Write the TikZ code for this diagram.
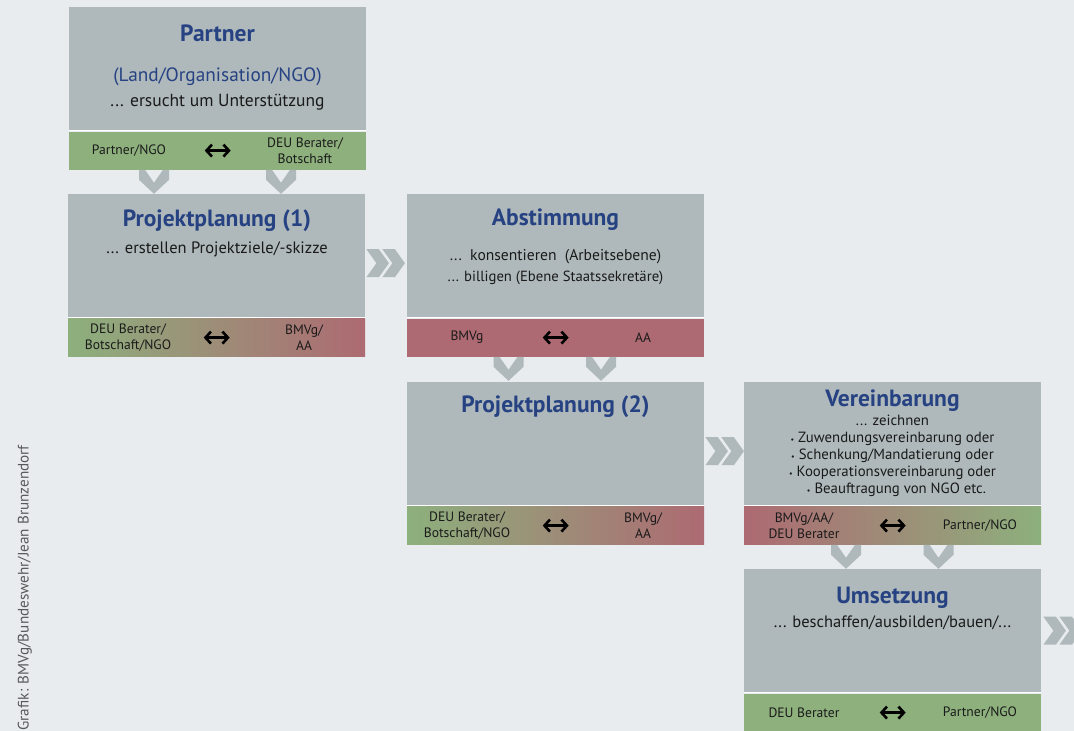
\documentclass[tikz,border=0pt]{standalone}
\usepackage{fontspec}
\setmainfont{PT Sans}
\usetikzlibrary{arrows.meta}
\definecolor{bgnd}{RGB}{232,236,239}
\definecolor{panelgray}{RGB}{175,185,187}
\definecolor{partnergreen}{RGB}{141,176,125}
\definecolor{ministryred}{RGB}{173,106,114}
\definecolor{titleblue}{RGB}{38,66,130}
\definecolor{textdark}{RGB}{26,26,26}
\tikzset{
  panel/.style={fill=panelgray, minimum width=297pt, minimum height=123pt, inner sep=0pt, anchor=north west},
  bar/.style={minimum width=297pt, minimum height=38pt, inner sep=0pt, anchor=north west},
  seam/.style={white, line width=1pt},
  headline/.style={font=\bfseries\fontsize{23.5}{26}\selectfont, text=titleblue, anchor=base},
  subhead/.style={font=\fontsize{19.3}{22}\selectfont, text=titleblue, anchor=base},
  body/.style={font=\fontsize{16.5}{20.7}\selectfont, text=textdark, anchor=base, align=center},
  bullets/.style={font=\fontsize{14.8}{16.8}\selectfont, text=textdark, anchor=base, align=center, inner sep=0pt},
  barlabel/.style={font=\fontsize{13.6}{16.3}\selectfont, text=textdark, align=center, inner sep=0pt},
  twoway/.style={{Straight Barb[length=5.5pt,width=12pt]}-{Straight Barb[length=5.5pt,width=12pt]}, line width=2.6pt, black},
  chev/.style={fill=panelgray},
  pics/downchev/.style={code={\fill[chev] (-15,0) -- (-9,0) -- (0,13) -- (9,0) -- (15,0) -- (15,10) -- (0,24) -- (-15,10) -- cycle;}},
  pics/nextchev/.style={code={\foreach \s in {0,16}
    \fill[chev,xshift=\s pt] (0,-14) -- (12.5,-14) -- (22.5,0) -- (12.5,14) -- (0,14) -- (10,0) -- cycle;}}
}
\begin{document}
\begin{tikzpicture}[x=1pt,y=-1pt]
\useasboundingbox[fill=bgnd] (0,0) rectangle (1074,731);
% one card: grey panel with the coloured bar below
\def\card#1#2#3#4#5#6{%
  \node[panel] (#1) at (#2,#3) {};
  \node[bar,#4] (#1bar) at ([yshift=-1pt]#1.south west) {};
  \draw[seam] ([yshift=-.5pt]#1.south west) -- ([yshift=-.5pt]#1.south east);
  \node[barlabel] (#1left) at ([xshift=60pt]#1bar.west) {#5};
  \node[barlabel] (#1right) at ([xshift=236pt]#1bar.west) {#6};
  \coordinate (#1from) at ([xshift=-13pt]#1bar.center);
  \coordinate (#1to) at ([xshift=13pt]#1bar.center);
  \draw[twoway] (#1from) -- (#1to);
}
\card{partner}{69}{7}{fill=partnergreen}{Partner/NGO}{DEU Berater/\\Botschaft}
\card{planA}{68}{194}{left color=partnergreen,right color=ministryred}{DEU Berater/\\Botschaft/NGO}{BMVg/\\AA}
\card{vote}{407}{194}{fill=ministryred}{BMVg}{AA}
\card{planB}{407}{382}{left color=partnergreen,right color=ministryred}{DEU Berater/\\Botschaft/NGO}{BMVg/\\AA}
\card{deal}{744}{382}{left color=ministryred,right color=partnergreen}{BMVg/AA/\\DEU Berater}{Partner/NGO}
\card{doit}{744}{569}{fill=partnergreen}{DEU Berater}{Partner/NGO}

\node[headline] (partnertitle) at (217.5,41) {Partner};
\node[subhead] (partnersub) at (217.5,81) {(Land/Organisation/NGO)};
\node[body, font=\fontsize{17.5}{21}\selectfont] (partnertext) at (217.5,106) {... ersucht um Unterstützung};

\node[headline] (planAtitle) at (217,226) {Projektplanung (1)};
\node[body] (planAtext) at (217,253) {... erstellen Projektziele/-skizze};

\node[headline] (votetitle) at (555.5,225) {Abstimmung};
\node[body, font=\fontsize{15.6}{20.7}\selectfont] (votetext) at (555.5,281) {...\ \ konsentieren\ \ (Arbeitsebene)\\{\fontsize{14.7}{20.7}\selectfont ... billigen (Ebene Staatssekretäre)}};

\node[headline] (planBtitle) at (555.5,412) {Projektplanung (2)};

\node[headline] (dealtitle) at (892.5,406) {Vereinbarung};
\node[bullets] (dealtext) at (892.5,493) {... zeichnen\\
  {\footnotesize\textbullet}\ Zuwendungsvereinbarung oder\\
  {\footnotesize\textbullet}\ Schenkung/Mandatierung oder\\
  {\footnotesize\textbullet}\ Kooperationsvereinbarung oder\\
  \hspace*{8pt}{\footnotesize\textbullet}\ Beauftragung von NGO etc.};

\node[headline] (doittitle) at (892.5,603) {Umsetzung};
\node[body] (doittext) at (892.5,627) {... beschaffen/ausbilden/bauen/...};

% chevrons between the steps
\pic at ([xshift=85pt]partnerbar.south west) {downchev};
\pic at ([xshift=212pt]partnerbar.south west) {downchev};
\pic at ([xshift=101.5pt]votebar.south west) {downchev};
\pic at ([xshift=194pt]votebar.south west) {downchev};
\pic at ([xshift=102pt]dealbar.south west) {downchev};
\pic at ([xshift=194.5pt]dealbar.south west) {downchev};
\pic at ([xshift=1pt,yshift=-7.5pt]planA.east) {nextchev};
\pic at ([xshift=1pt,yshift=-7.5pt]planB.east) {nextchev};
\pic at ([xshift=2pt]doit.east) {nextchev};

\node[rotate=90, anchor=base west, font=\fontsize{15.2}{17}\selectfont, text=black!65] (credit) at (28.5,734) {Grafik: BMVg/Bundeswehr/Jean Brunzendorf};
\end{tikzpicture}
\end{document}
